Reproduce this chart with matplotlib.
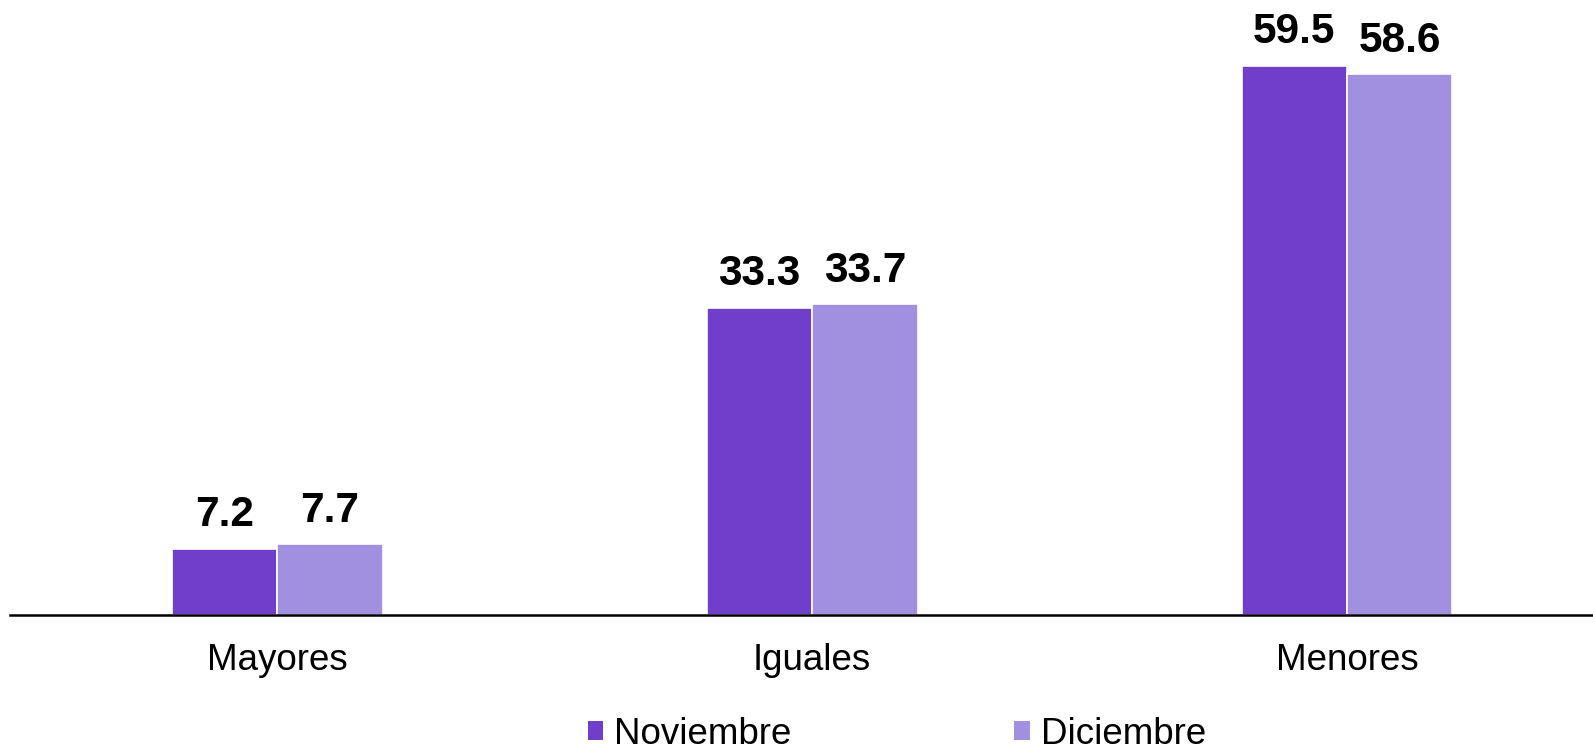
import numpy as np
import matplotlib
matplotlib.use("Agg")
import matplotlib.pyplot as plt
from matplotlib.patches import Patch

plt.rcParams["font.family"] = ["Liberation Sans", "DejaVu Sans"]

# Data
categories = ["Mayores", "Iguales", "Menores"]
series_names = ["Noviembre", "Diciembre"]
noviembre = [7.2, 33.3, 59.5]
diciembre = [7.7, 33.7, 58.6]
colors = ["#6F3FCC", "#A18FE0"]

fig = plt.figure(figsize=(15.93, 7.51), dpi=100)
ax = fig.add_axes([10 / 1593, 136 / 751, 1583 / 1593, 615 / 751])

x = np.arange(len(categories))
w = 0.197

for vals, off, col in [(noviembre, -w / 2, colors[0]), (diciembre, w / 2, colors[1])]:
    bars = ax.bar(x + off, vals, width=w, color=col, edgecolor="white", linewidth=1.2)
    for b, v in zip(bars, vals):
        ax.annotate(f"{v:.1f}", (b.get_x() + b.get_width() / 2, v),
                    xytext=(0, 16), textcoords="offset points",
                    ha="center", va="baseline", fontsize=30.5, fontweight="bold")

ax.set_xlim(-0.5, 2.46)
ax.set_ylim(0, 66.6)
ax.set_xticks(x)
ax.set_xticklabels(categories, fontsize=26.5)
ax.tick_params(axis="x", length=0, pad=20)
ax.set_yticks([])
for s in ["top", "right", "left"]:
    ax.spines[s].set_visible(False)
ax.spines["bottom"].set_linewidth(1.8)
ax.spines["bottom"].set_color("black")

handles = [Patch(facecolor=c, edgecolor="none") for c in colors]
fig.legend(handles, series_names, loc="center", bbox_to_anchor=(0.563, 0.022),
           ncol=2, frameon=False, fontsize=26.5, handlelength=0.42, handleheight=0.42,
           handletextpad=0.3, columnspacing=6.05)

fig.savefig("out.png", dpi=100)
